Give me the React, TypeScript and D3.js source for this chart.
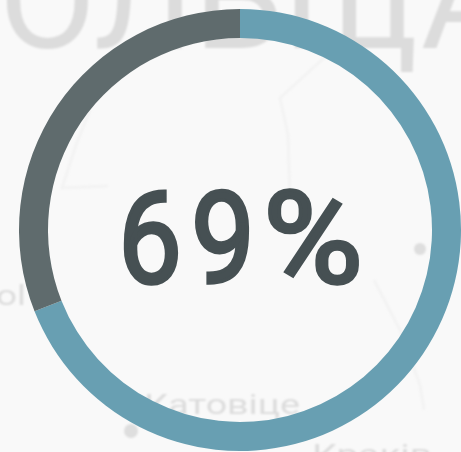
import React from "react";
import * as d3 from "d3";

const W = 461;
const H = 452;
const segmentNames = ["done", "rest"];
const segmentValues = [69, 31];
const segmentColors = ["#689fb2", "#5f6b6d"];
const centreGlyphs = ["6", "9", "%"];
const centreGlyphX = [118, 191, 263];
const centreGlyphW = [64, 64, 100];
const mapLabels = [
  { t: "ПОЛЬЩА", x: -102, y: 48, s: 140, w: 615 },
  { t: "ol", x: -4, y: 305, s: 28, w: 30 },
  { t: "Катовіце", x: 144, y: 414, s: 27, w: 156 },
  { t: "Краків", x: 312, y: 464, s: 27, w: 120 },
];
const mapDots = [
  { x: 131, y: 431, r: 7 },
  { x: 420, y: 249, r: 6 },
];
const mapRoads = [
  [[325, 57], [280, 98], [288, 135], [290, 200]],
  [[90, 110], [76, 145], [62, 188], [108, 186]],
  [[374, 280], [400, 330], [420, 385], [424, 410]],
];

export default function App() {
  const pie = d3.pie<number>().sort(null).startAngle(0).endAngle(2 * Math.PI);
  const arcs = pie(segmentValues);
  const arc = d3.arc<d3.PieArcDatum<number>>().innerRadius(192).outerRadius(221);
  const road = d3.line();
  return (
    <svg width={W} height={H} viewBox={`0 0 ${W} ${H}`} style={{ position: "absolute", left: 0, top: 0, fontFamily: "Roboto" }}>
      <defs>
        <filter id="soft"><feGaussianBlur stdDeviation="0.9" /></filter>
      </defs>
      <rect width={W} height={H} fill="#f9f9f9" />
      <g filter="url(#soft)">
        {mapRoads.map((r, i) => (
          <path key={i} d={road(r as [number, number][]) ?? ""} fill="none" stroke="#f3f3f3" strokeWidth={3} />
        ))}
        {mapLabels.map((l) => (
          <text key={l.t} x={l.x} y={l.y} fontSize={l.s} fill="#dcdcdc" textLength={l.w} lengthAdjust="spacingAndGlyphs" fontFamily="Roboto">
            {l.t}
          </text>
        ))}
        {mapDots.map((d, i) => (
          <circle key={i} cx={d.x} cy={d.y} r={d.r} fill="#dedede" />
        ))}
      </g>
      <g transform="translate(240,230)">
        {arcs.map((a, i) => (
          <path key={segmentNames[i]} d={arc(a) ?? ""} fill={segmentColors[i]} />
        ))}
      </g>
      <text y={283} fontSize={128} fontFamily="Roboto" fill="#465053" stroke="#465053" strokeWidth={3.5}>
        {centreGlyphs.map((g, i) => (
          <tspan key={g} x={centreGlyphX[i]} textLength={centreGlyphW[i]} lengthAdjust="spacingAndGlyphs">
            {g}
          </tspan>
        ))}
      </text>
    </svg>
  );
}
